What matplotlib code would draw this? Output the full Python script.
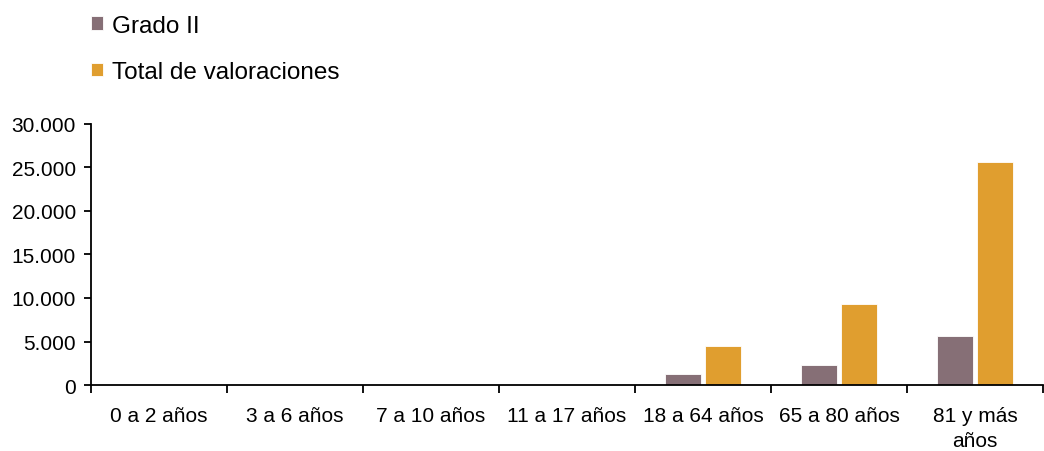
import numpy as np
import matplotlib.pyplot as plt
import matplotlib.ticker as ticker

plt.rcParams['font.family'] = ['Liberation Sans', 'DejaVu Sans']

# Data
categories = ['0 a 2 años', '3 a 6 años', '7 a 10 años', '11 a 17 años',
              '18 a 64 años', '65 a 80 años', '81 y más\naños']
grado_ii = [0, 0, 0, 0, 1260, 2300, 5630]
total_valoraciones = [0, 0, 0, 0, 4480, 9310, 25630]
y_ticks = [0, 5000, 10000, 15000, 20000, 25000, 30000]

c_grado = '#866F76'
c_total = '#E09E2F'

fig = plt.figure(figsize=(10.44, 4.52), dpi=100)
ax = fig.add_axes([0.0872, 0.146, 0.912, 0.5775])

x = np.arange(len(categories))
w = 0.265
ax.bar(x - 0.145, grado_ii, w, color=c_grado, edgecolor='white', linewidth=0.6, label='Grado II')
ax.bar(x + 0.145, total_valoraciones, w, color=c_total, edgecolor='white', linewidth=0.6,
       label='Total de valoraciones')

ax.set_xlim(-0.5, len(categories) - 0.5)
ax.set_ylim(0, 30000)
ax.set_yticks(y_ticks)
ax.yaxis.set_major_formatter(ticker.FuncFormatter(lambda v, p: f'{int(v):,}'.replace(',', '.')))

# category boundaries as ticks, labels at centres
ax.set_xticks(np.arange(-0.5, len(categories), 1.0))
ax.set_xticklabels([])
ax.set_xticks(x, minor=True)
ax.set_xticklabels(categories, minor=True, linespacing=1.4)
ax.tick_params(axis='x', which='major', direction='out', length=6, width=1.3)
ax.tick_params(axis='x', which='minor', length=0, pad=15, labelsize=15)
ax.tick_params(axis='y', direction='out', length=5, width=1.3, labelsize=15, pad=6)

for s in ['top', 'right']:
    ax.spines[s].set_visible(False)
for s in ['left', 'bottom']:
    ax.spines[s].set_linewidth(1.3)
    ax.spines[s].set_color('black')

fig.legend(loc='upper left', bbox_to_anchor=(0.072, 1.0), frameon=False, fontsize=17.5,
           handlelength=0.5, handleheight=0.5, handletextpad=0.35, labelspacing=1.0,
           borderaxespad=0.25)

fig.savefig('out.png', dpi=100)
